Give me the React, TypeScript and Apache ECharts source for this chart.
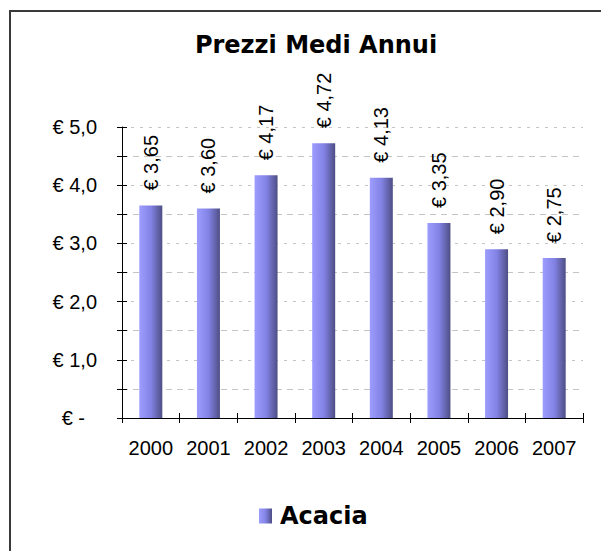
import React, { useEffect, useRef } from "react";
import * as echarts from "echarts";

const categories = ["2000", "2001", "2002", "2003", "2004", "2005", "2006", "2007"];
const acaciaValues = [3.65, 3.6, 4.17, 4.72, 4.13, 3.35, 2.9, 2.75];
const seriesName = "Acacia";
const titleText = "Prezzi Medi Annui";

const euro = (v: number, d: number) => "€ " + v.toFixed(d).replace(".", ",");

export default function App() {
  const ref = useRef<HTMLDivElement>(null);
  useEffect(() => {
    if (!ref.current) return;
    const chart = echarts.init(ref.current, null, { renderer: "svg" });
    const barGradient = new echarts.graphic.LinearGradient(0, 0, 1, 0, [
      { offset: 0, color: "#9d9dff" },
      { offset: 0.5, color: "#8383e6" },
      { offset: 1, color: "#4e4e85" },
    ]);
    chart.setOption({
      animation: false,
      backgroundColor: "#ffffff",
      title: {
        text: titleText,
        left: 311,
        textAlign: "center",
        top: 28,
        textStyle: {
          fontFamily: "DejaVu Sans",
          fontWeight: "bold",
          fontSize: 24,
          color: "#000",
        },
      },
      graphic: [
        {
          type: "rect",
          shape: { x: 10, y: 11, width: 700, height: 700 },
          style: { fill: "none", stroke: "#3a3a3a", lineWidth: 2 },
          silent: true,
        },
      ],
      legend: {
        left: 254,
        top: 499,
        itemWidth: 13,
        itemHeight: 15,
        itemGap: 10,
        textStyle: {
          fontFamily: "DejaVu Sans",
          fontWeight: "bold",
          fontSize: 24,
          color: "#000",
          padding: [0, 0, 0, 3],
        },
        data: [{ name: seriesName, icon: "rect" }],
      },
      grid: { left: 122, right: 18, top: 127, bottom: 133, containLabel: false },
      xAxis: [
        {
          type: "category",
          data: categories,
          position: "bottom",
          axisLine: { show: true, lineStyle: { color: "#000", width: 1 } },
          axisTick: { show: true, length: 5, lineStyle: { color: "#000" } },
          axisLabel: {
            margin: 20,
            fontFamily: "Liberation Sans",
            fontSize: 20,
            color: "#000",
            interval: 0,
          },
          splitLine: { show: false },
        },
        {
          type: "category",
          data: categories,
          position: "bottom",
          axisLine: { show: false },
          axisTick: { show: true, inside: true, length: 5, lineStyle: { color: "#000" } },
          axisLabel: { show: false },
          splitLine: { show: false },
        },
      ],
      yAxis: [
        {
          type: "value",
          min: 0,
          max: 5,
          interval: 1,
          position: "left",
          axisLine: { show: true, lineStyle: { color: "#000", width: 1 } },
          axisTick: { show: true, length: 5, lineStyle: { color: "#000" } },
          minorTick: { show: true, splitNumber: 2, length: 5, lineStyle: { color: "#000" } },
          axisLabel: {
            margin: 25,
            fontFamily: "Liberation Sans",
            fontSize: 20,
            color: "#000",
            formatter: (v: number) => (v === 0 ? "{z|€ -}" : euro(v, 1)),
            rich: {
              z: {
                fontFamily: "Liberation Sans",
                fontSize: 20,
                color: "#000",
                padding: [0, 12, 0, 0],
              },
            },
          },
          splitLine: {
            show: true,
            lineStyle: { color: "#c4c4c4", type: [3, 6], width: 1 },
          },
          minorSplitLine: {
            show: true,
            lineStyle: { color: "#c4c4c4", type: [6, 5], width: 1 },
          },
        },
        {
          type: "value",
          min: 0,
          max: 5,
          interval: 0.5,
          position: "left",
          axisLine: { show: false },
          axisTick: { show: true, inside: true, length: 5, lineStyle: { color: "#000" } },
          axisLabel: { show: false },
          splitLine: { show: false },
        },
      ],
      series: [
        {
          name: seriesName,
          type: "bar",
          xAxisIndex: 0,
          yAxisIndex: 0,
          data: acaciaValues,
          barWidth: 23,
          itemStyle: { color: barGradient },
          label: {
            show: true,
            position: "top",
            distance: 15,
            rotate: 90,
            align: "left",
            verticalAlign: "middle",
            fontFamily: "Liberation Sans",
            fontSize: 20,
            color: "#000",
            formatter: (p: any) => euro(p.value, 2),
          },
        },
      ],
    });
    return () => chart.dispose();
  }, []);
  return (
    <div
      ref={ref}
      style={{ position: "fixed", left: 0, top: 0, width: 601, height: 551, background: "#fff" }}
    />
  );
}
